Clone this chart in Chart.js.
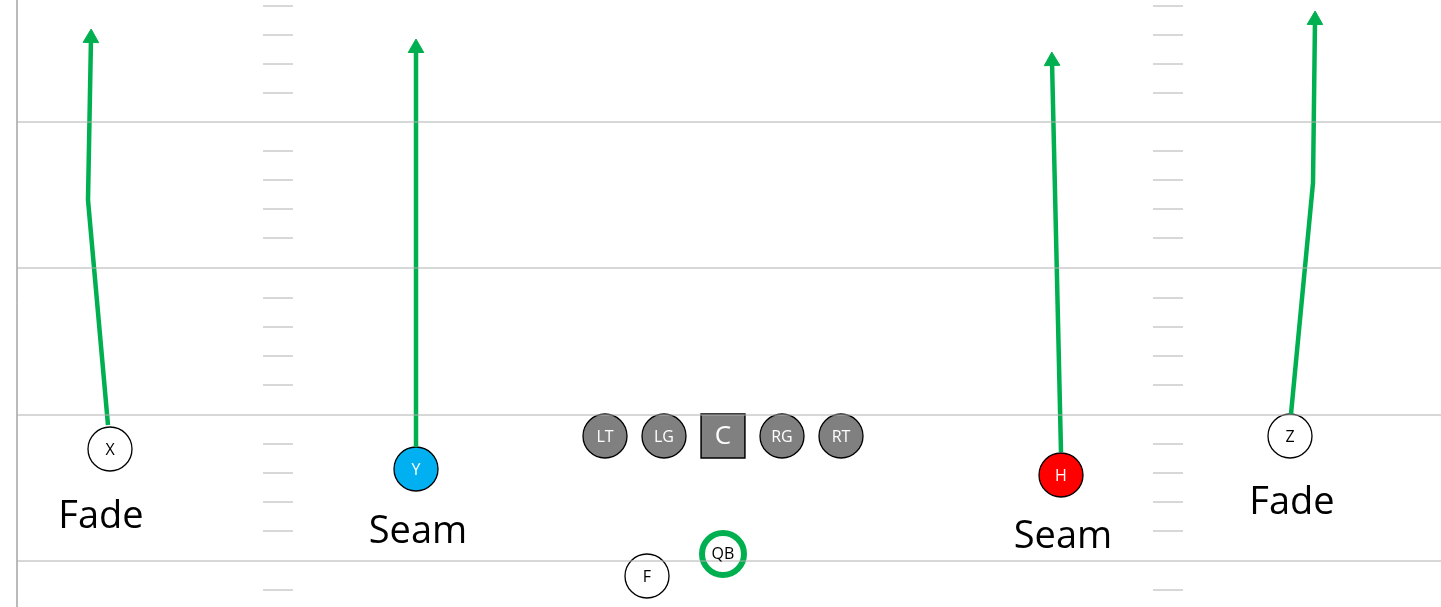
<!DOCTYPE html>
<html lang="en">
<head>
<meta charset="UTF-8" />
<title>Seam Fade</title>
<script src="https://cdn.jsdelivr.net/npm/chart.js"></script>
<style>
  body { margin: 0; background: #fff; }
  canvas { display: block; }
</style>
</head>
<body>
<canvas id="play" width="1441" height="607"></canvas>
<script>
// field yard lines (y) and hash rows
const yardLines = [122, 268, 415, 561];
const hashRows = [6, 35, 64, 93, 151, 180, 209, 238, 298, 327, 356, 385, 444, 473, 502, 531, 590];
const hashCols = [[263, 293], [1153, 1183]];

// routes: each list of [x, y], last point is the arrow tip
const routes = [
  [[108, 425], [88, 200], [91, 38]],
  [[416, 447], [416, 48]],
  [[1061, 452], [1052, 61]],
  [[1291, 414], [1313, 183], [1315, 20]]
];

// players
const players = [
  { name: 'X', x: 110, y: 449, fill: '#ffffff', text: '#000' },
  { name: 'Y', x: 416, y: 469, fill: '#00b0f0', text: '#fff' },
  { name: 'H', x: 1061, y: 475, fill: '#ff0000', text: '#fff' },
  { name: 'Z', x: 1290, y: 436, fill: '#ffffff', text: '#000' },
  { name: 'LT', x: 605, y: 436, fill: '#808080', text: '#fff' },
  { name: 'LG', x: 664, y: 436, fill: '#808080', text: '#fff' },
  { name: 'RG', x: 782, y: 436, fill: '#808080', text: '#fff' },
  { name: 'RT', x: 841, y: 436, fill: '#808080', text: '#fff' },
  { name: 'F', x: 647, y: 576, fill: '#ffffff', text: '#000' }
];
const center = { name: 'C', x: 723, y: 436 };
const qb = { name: 'QB', x: 723, y: 554 };

const routeLabels = [
  { text: 'Fade', x: 101, y: 517 },
  { text: 'Seam', x: 418, y: 532 },
  { text: 'Seam', x: 1063, y: 537 },
  { text: 'Fade', x: 1292, y: 503 }
];

const green = '#00b050';
const datasets = [];

// border + yard lines
datasets.push({ data: [{ x: 17, y: 0 }, { x: 17, y: 607 }], showLine: true, borderColor: '#b0b0b0', borderWidth: 1, pointRadius: 0 });
yardLines.forEach(y => datasets.push({
  data: [{ x: 17, y }, { x: 1441, y }], showLine: true, borderColor: '#b0b0b0', borderWidth: 1, pointRadius: 0
}));
hashCols.forEach(([a, b]) => {
  const pts = [];
  hashRows.forEach(y => { pts.push({ x: a, y }, { x: b, y }, { x: null, y: null }); });
  datasets.push({ data: pts, showLine: true, spanGaps: false, borderColor: '#b0b0b0', borderWidth: 1, pointRadius: 0 });
});

// routes with arrowheads
routes.forEach(r => {
  datasets.push({ data: r.map(p => ({ x: p[0], y: p[1] })), showLine: true, borderColor: green, borderWidth: 4.5, pointRadius: 0 });
  const a = r[r.length - 2], b = r[r.length - 1];
  const ang = Math.atan2(b[0] - a[0], a[1] - b[1]) * 180 / Math.PI;
  datasets.push({
    data: [{ x: b[0], y: b[1] }], pointStyle: 'triangle', pointRadius: 9, rotation: ang,
    backgroundColor: green, borderColor: green, borderWidth: 1
  });
});

// players
datasets.push({
  data: players.map(p => ({ x: p.x, y: p.y })), pointStyle: 'circle', pointRadius: 22,
  backgroundColor: players.map(p => p.fill), borderColor: '#000', borderWidth: 1.3
});
datasets.push({
  data: [{ x: center.x, y: center.y }], pointStyle: 'rect', pointRadius: 31,
  backgroundColor: '#808080', borderColor: '#000', borderWidth: 1.5
});
datasets.push({
  data: [{ x: qb.x, y: qb.y }], pointStyle: 'circle', pointRadius: 21,
  backgroundColor: '#fff', borderColor: green, borderWidth: 6
});
datasets.forEach(d => { d.clip = false; });

const textPlugin = {
  id: 'texts',
  afterDatasetsDraw(chart) {
    const { ctx, scales: { x, y } } = chart;
    ctx.save();
    ctx.textAlign = 'center';
    ctx.textBaseline = 'middle';
    ctx.font = '16px "Open Sans", sans-serif';
    players.forEach(p => {
      ctx.fillStyle = p.text;
      ctx.fillText(p.name, x.getPixelForValue(p.x), y.getPixelForValue(p.y) + 1);
    });
    ctx.fillStyle = '#000';
    ctx.fillText(qb.name, x.getPixelForValue(qb.x), y.getPixelForValue(qb.y));
    ctx.fillStyle = '#fff';
    ctx.font = '26px "Open Sans", sans-serif';
    ctx.fillText(center.name, x.getPixelForValue(center.x), y.getPixelForValue(center.y) + 1);
    ctx.fillStyle = '#000';
    ctx.font = '38px "Open Sans", sans-serif';
    routeLabels.forEach(l => ctx.fillText(l.text, x.getPixelForValue(l.x), y.getPixelForValue(l.y)));
    ctx.restore();
  }
};

new Chart(document.getElementById('play'), {
  type: 'scatter',
  data: { datasets },
  options: {
    responsive: false,
    animation: false,
    layout: { padding: 0, autoPadding: false },
    plugins: { legend: { display: false }, tooltip: { enabled: false } },
    scales: {
      x: { type: 'linear', min: 0, max: 1441, display: false },
      y: { type: 'linear', min: 0, max: 607, reverse: true, display: false }
    }
  },
  plugins: [textPlugin]
});
</script>
</body>
</html>
